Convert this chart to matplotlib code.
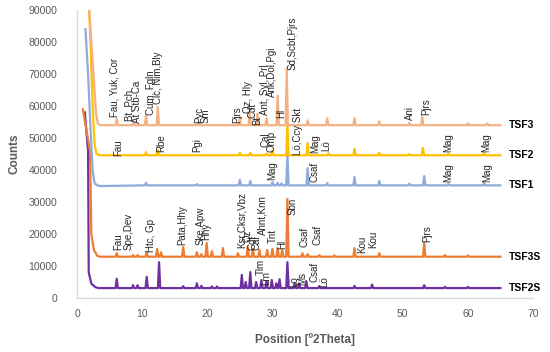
import matplotlib
matplotlib.use("Agg")
import matplotlib.pyplot as plt

plt.rcParams['font.family'] = ['Liberation Sans', 'DejaVu Sans']

# ---- data (2theta in degrees, counts) ----
series_names = ['TSF2S', 'TSF3S', 'TSF1', 'TSF2', 'TSF3']
series_colors = ['#7030A0', '#ED7D31', '#8FAADC', '#FFC000', '#F4B183']

# low-angle tail of each pattern
tsf3_start_x = [1.8, 2.2, 2.6, 2.9, 3.2, 3.6]
tsf3_start_y = [93000, 80000, 68000, 58000, 54500, 54000]
tsf2_start_x = [1.8, 2.1, 2.4, 2.7, 3.0, 3.5]
tsf2_start_y = [93000, 78000, 60000, 48000, 45000, 44600]
tsf1_start_x = [1.3, 1.7, 2.1, 2.4, 2.7, 3.2, 4.0]
tsf1_start_y = [84000, 70000, 52000, 40000, 35800, 35100, 35000]
tsf3s_start_x = [0.9, 2.0, 2.2, 2.6, 3.1, 3.5]
tsf3s_start_y = [59000, 46000, 20000, 15000, 13200, 12900]
tsf2s_start_x = [1.2, 1.7, 1.8, 2.2, 2.8, 3.3]
tsf2s_start_y = [58000, 46000, 8000, 4500, 3400, 3100]

# baselines
tsf3_base = 54000
tsf2_base = 44600
tsf1_base = 35200
tsf3s_base = 12900
tsf2s_base = 3100

# peaks
tsf3_peak_x = [6.1, 8.7, 10.6, 12.4, 18.7, 25.0, 26.5, 27.7, 29.1, 30.8, 32.2,
               35.4, 38.4, 42.6, 46.4, 51.0, 53.0, 60.0, 63.0]
tsf3_peak_y = [56000, 55000, 57200, 59700, 55000, 56600, 57800, 57600, 56200, 63300, 71800,
               55500, 56200, 56200, 55200, 54800, 56600, 54600, 54600]

tsf2_peak_x = [10.6, 12.4, 25.0, 26.6, 29.1, 30.0, 32.3, 35.4, 38.6, 42.6, 46.4,
               51.0, 53.1, 57.0, 62.5]
tsf2_peak_y = [45600, 46200, 45400, 45400, 45200, 46200, 54500, 48400, 45200, 46600, 45400,
               45000, 46900, 45200, 45300]

tsf1_peak_x = [10.6, 18.4, 25.0, 26.6, 30.0, 30.8, 31.4, 32.3, 35.4, 38.4, 42.6,
               46.4, 51.0, 53.3, 57.0, 62.5]
tsf1_peak_y = [36000, 35600, 36900, 36600, 36200, 36000, 35800, 45000, 40600, 35900, 37800,
               36600, 35700, 38100, 35800, 35900]

tsf3s_peak_x = [6.1, 8.6, 9.3, 10.7, 12.3, 12.9, 16.3, 18.4, 19.1, 19.9, 20.7, 22.4,
                24.7, 26.2, 27.0, 28.0, 29.2, 30.0, 30.8, 31.5, 32.3, 34.6, 35.4,
                37.2, 39.5, 42.6, 46.4, 53.3, 56.5, 60.0]
tsf3s_peak_y = [14000, 13400, 13400, 14300, 15300, 14300, 15900, 14300, 13700, 17200, 14600, 15600,
                14000, 15900, 15300, 15000, 15000, 15300, 15600, 15000, 31000, 14000, 13700,
                13400, 13300, 15600, 14000, 17200, 13400, 13300]

tsf2s_peak_x = [6.1, 8.6, 9.3, 10.7, 12.6, 16.3, 18.4, 19.1, 20.7, 21.5, 25.3, 25.9,
                26.6, 27.5, 28.3, 29.1, 29.9, 30.6, 31.1, 32.3, 33.4, 34.1, 35.2,
                37.2, 42.6, 45.3, 53.3, 56.5, 60.0]
tsf2s_peak_y = [6000, 4000, 4000, 6600, 11200, 3700, 4600, 3800, 3600, 3600, 7200, 5000,
                8100, 5000, 5600, 5300, 5600, 4600, 5900, 11200, 4600, 4600, 5300,
                3700, 3800, 4200, 4000, 3500, 3500]

# phase labels: text, 2theta, counts at the foot of the label
tsf3_labels = [("Fau, Yuk, Cor", 5.8, 56600), ("Bt, Pch", 8.1, 55300), ("At Stb-Ca", 9.2, 54700),
               ("Cum, Fgln", 11.3, 57200), ("Clc, Nim,Bly", 12.4, 60600), ("Pyc", 18.8, 54700),
               ("Sm", 19.8, 54700), ("Pjrs", 24.6, 54700), ("Qz, Hly", 26.2, 57800),
               ("Cdt", 27.0, 56200), ("Bt", 27.6, 54000), ("Ant, Syl, Prl", 28.9, 57200),
               ("Ank,Dol,Pgi", 29.9, 62800), ("Hl", 31.4, 56200), ("Sd,Scbt,Pjrs", 33.1, 71200),
               ("Ani", 51.1, 55600), ("Pjrs", 53.6, 57200)]
tsf2_labels = [("Fau", 6.3, 44400), ("Rbe", 13.0, 45600), ("Pgi", 18.4, 45600),
               ("Cal", 28.9, 47200), ("Omp", 29.9, 45600), ("Lö,Ccy Skt", 34.0, 44700),
               ("Mag", 36.5, 45300), ("Lö", 38.3, 45900), ("Mag", 57.0, 45600), ("Mag", 62.8, 45600)]
tsf1_labels = [("Mag", 29.9, 36900), ("Csaf", 36.5, 36200), ("Mag", 57.0, 36200), ("Mag", 63.0, 36200)]
tsf3s_labels = [("Fau", 6.3, 15000), ("Spe,Dev", 7.9, 15000), ("Htc, Gp", 11.3, 14400),
                ("Pata,Hhy", 16.2, 16600), ("Ske,Apw", 19.0, 16600), ("Hhy", 19.9, 18100),
                ("Ksr,Cksr,Vbz", 25.3, 15600), ("Qz", 26.2, 17500), ("Cdt", 27.0, 15000),
                ("Cal", 27.6, 15000), ("Ahnt,Knn", 28.4, 19700), ("Tnt", 30.0, 17200),
                ("Hl", 31.5, 15300), ("Sbn", 33.1, 25900), ("Csaf", 34.9, 15900),
                ("Csaf", 36.9, 16600), ("Kou", 43.8, 14100), ("Kou", 45.5, 15600),
                ("Pjrs", 53.7, 17500)]
tsf2s_labels = [("Tlm", 28.2, 7200), ("Lrn", 29.1, 4100), ("Lö", 33.4, 3400),
                ("Ms", 34.6, 4100), ("Csaf", 36.4, 5000), ("Lö", 38.0, 3400)]

name_x = 66.3
name_y = [3100, 12800, 35300, 44700, 54000]


def trace(sx, sy, base, px, py, end=65.0, hw=0.18):
    xs = list(sx)
    ys = list(sy)
    for p, h in zip(px, py):
        xs += [p - hw, p, p + hw]
        ys += [base, h, base]
    xs.append(end)
    ys.append(base)
    return xs, ys


traces = [
    trace(tsf2s_start_x, tsf2s_start_y, tsf2s_base, tsf2s_peak_x, tsf2s_peak_y),
    trace(tsf3s_start_x, tsf3s_start_y, tsf3s_base, tsf3s_peak_x, tsf3s_peak_y),
    trace(tsf1_start_x, tsf1_start_y, tsf1_base, tsf1_peak_x, tsf1_peak_y),
    trace(tsf2_start_x, tsf2_start_y, tsf2_base, tsf2_peak_x, tsf2_peak_y),
    trace(tsf3_start_x, tsf3_start_y, tsf3_base, tsf3_peak_x, tsf3_peak_y),
]

fig = plt.figure(figsize=(5.5, 3.52), dpi=100)
ax = fig.add_axes([77 / 550, 1 - 298 / 352, (533 - 77) / 550, (298 - 10) / 352])

for (xs, ys), c in zip(traces, series_colors):
    ax.plot(xs, ys, color=c, lw=1.6, solid_joinstyle='round')

for labels in [tsf3_labels, tsf2_labels, tsf1_labels, tsf3s_labels, tsf2s_labels]:
    for txt, x, y in labels:
        ax.text(x, y, txt, rotation=90, ha='center', va='bottom', fontsize=7, color='#262626')

for name, y in zip(series_names, name_y):
    ax.text(name_x, y, name, ha='left', va='center', fontsize=7.5, fontweight='bold', color='black')

ax.set_xlim(0, 70)
ax.set_ylim(0, 90000)
ax.set_xticks(range(0, 71, 10))
ax.set_yticks(range(0, 90001, 10000))
ax.tick_params(length=0, labelsize=7.5, labelcolor='#595959')
ax.tick_params(axis='y', pad=14)
ax.tick_params(axis='x', pad=8)
for s in ['top', 'right']:
    ax.spines[s].set_visible(False)
for s in ['left', 'bottom']:
    ax.spines[s].set_color('#D9D9D9')
    ax.spines[s].set_linewidth(1)

ax.set_xlabel('Position [º2Theta]', fontsize=8.5, fontweight='bold', color='#595959', labelpad=10)
ax.set_ylabel('Counts', fontsize=8.5, fontweight='bold', color='#595959', labelpad=6)

fig.savefig('out.png', dpi=100)
